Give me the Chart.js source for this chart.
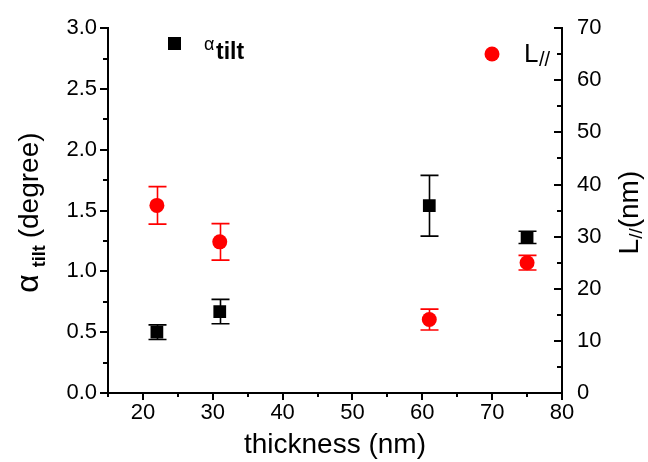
<!DOCTYPE html>
<html>
<head>
<meta charset="utf-8">
<script src="https://cdn.jsdelivr.net/npm/chart.js@4.4.0/dist/chart.umd.min.js"></script>
<style>
  html, body { margin: 0; padding: 0; background: #fff; }
  #wrap { width: 648px; height: 462px; }
</style>
</head>
<body>
<div id="wrap"><canvas id="chart" width="648" height="462"></canvas></div>
<script>
// data
const thickness = [22, 31, 61, 75];
const alphaTilt = [0.50, 0.67, 1.54, 1.28];
const alphaTiltErr = [0.06, 0.10, 0.25, 0.05];
const lPar = [36.0, 29.0, 14.1, 25.0];
const lParErr = [3.6, 3.5, 2.0, 1.4];

// tick values
const xTicks = [20, 30, 40, 50, 60, 70, 80];
const xMinor = [15, 25, 35, 45, 55, 65, 75];
const alphaTicks = [0, 0.5, 1.0, 1.5, 2.0, 2.5, 3.0];
const alphaMinor = [0.25, 0.75, 1.25, 1.75, 2.25, 2.75];
const lTicks = [0, 10, 20, 30, 40, 50, 60, 70];
const lMinor = [5, 15, 25, 35, 45, 55, 65];

const FONT = '"Liberation Sans", Arial, sans-serif';
const BLACK = '#000000';
const RED = '#ff0000';

function toPoints(xs, ys) {
    return xs.map((x, i) => ({ x: x, y: ys[i] }));
}

/**
 * Vertical error bars with caps, drawn under the markers
 */
const errorBars = {
    id: 'errorBars',
    beforeDatasetsDraw(chart) {
        const ctx = chart.ctx;
        chart.data.datasets.forEach(ds => {
            const xs = chart.scales.x;
            const ys = chart.scales[ds.yAxisID];
            ctx.save();
            ctx.strokeStyle = ds.backgroundColor;
            ctx.lineWidth = 1.6;
            ctx.beginPath();
            ds.data.forEach((p, j) => {
                const px = Math.round(xs.getPixelForValue(p.x)) + 0.5;
                const top = ys.getPixelForValue(p.y + ds.errors[j]);
                const bot = ys.getPixelForValue(p.y - ds.errors[j]);
                ctx.moveTo(px, top);
                ctx.lineTo(px, bot);
                ctx.moveTo(px - 9, top);
                ctx.lineTo(px + 9, top);
                ctx.moveTo(px - 9, bot);
                ctx.lineTo(px + 9, bot);
            });
            ctx.stroke();
            ctx.restore();
        });
    }
};

// draws a run of text pieces along one baseline, centred on 0
function drawPieces(ctx, pieces) {
    let total = 0;
    pieces.forEach(p => {
        ctx.font = p.font;
        p.w = ctx.measureText(p.text).width;
        total += p.w + (p.gap || 0);
    });
    let x = -total / 2;
    pieces.forEach(p => {
        ctx.font = p.font;
        ctx.fillText(p.text, x, p.dy || 0);
        x += p.w + (p.gap || 0);
    });
}

/**
 * Tick marks (major + minor), y titles with subscripts and the legend
 */
const decorations = {
    id: 'decorations',
    afterDraw(chart) {
        const { ctx, chartArea: a, scales } = chart;
        ctx.save();
        ctx.strokeStyle = BLACK;
        ctx.lineWidth = 2;
        ctx.beginPath();
        const mark = (vals, scale, len, fn) => vals.forEach(v => fn(Math.round(scale.getPixelForValue(v)), len));
        // bottom axis, ticks outward
        const xt = (p, len) => { ctx.moveTo(p, a.bottom); ctx.lineTo(p, a.bottom + len); };
        mark(xTicks, scales.x, 7, xt);
        mark(xMinor, scales.x, 4, xt);
        // left axis, ticks outward
        const lt = (p, len) => { ctx.moveTo(a.left, p); ctx.lineTo(a.left - len, p); };
        mark(alphaTicks, scales.y, 8, lt);
        mark(alphaMinor, scales.y, 5, lt);
        // right axis, ticks inward
        const rt = (p, len) => { ctx.moveTo(a.right, p); ctx.lineTo(a.right - len, p); };
        mark(lTicks, scales.y2, 8, rt);
        mark(lMinor, scales.y2, 5, rt);
        ctx.stroke();

        ctx.fillStyle = BLACK;
        ctx.textBaseline = 'alphabetic';
        ctx.textAlign = 'left';

        // left title: alpha_tilt (degree)
        ctx.save();
        ctx.translate(38, (a.top + a.bottom) / 2 + 2);
        ctx.rotate(-Math.PI / 2);
        drawPieces(ctx, [
            { text: '\u03B1', font: '32px ' + FONT, gap: 7 },
            { text: 'tilt', font: 'bold 18px ' + FONT, dy: 7, gap: 7 },
            { text: '(degree)', font: '28px ' + FONT }
        ]);
        ctx.restore();

        // right title: L_// (nm)
        ctx.save();
        ctx.translate(638, (a.top + a.bottom) / 2 + 2);
        ctx.rotate(-Math.PI / 2);
        drawPieces(ctx, [
            { text: 'L', font: '28px ' + FONT },
            { text: '//', font: '19px ' + FONT, dy: 4 },
            { text: '(nm)', font: '28px ' + FONT }
        ]);
        ctx.restore();

        // legend
        const ds0 = chart.data.datasets[0];
        const ds1 = chart.data.datasets[1];
        ctx.fillStyle = ds0.backgroundColor;
        ctx.fillRect(168, 37, 13, 13);
        ctx.fillStyle = BLACK;
        ctx.font = '18px ' + FONT;
        ctx.fillText('\u03B1', 204, 50);
        ctx.font = 'bold 23px ' + FONT;
        ctx.fillText('tilt', 216, 59);

        ctx.fillStyle = ds1.backgroundColor;
        ctx.beginPath();
        ctx.arc(492, 54, 7.5, 0, Math.PI * 2);
        ctx.fill();
        ctx.fillStyle = BLACK;
        ctx.font = '26px ' + FONT;
        ctx.fillText('L', 524, 62);
        ctx.font = '20px ' + FONT;
        ctx.fillText('//', 539, 66);

        ctx.restore();
    }
};

function setTicks(values) {
    return scale => { scale.ticks = values.map(v => ({ value: v })); };
}

const tickFont = { family: FONT, size: 22 };
const border = { display: true, color: BLACK, width: 2 };
const noGrid = { display: false, drawTicks: false };

new Chart(document.getElementById('chart'), {
    type: 'scatter',
    data: {
        datasets: [{
            label: 'alpha tilt',
            data: toPoints(thickness, alphaTilt),
            errors: alphaTiltErr,
            yAxisID: 'y',
            pointStyle: 'rect',
            pointRadius: 9,
            backgroundColor: BLACK,
            borderWidth: 0
        }, {
            label: 'L//',
            data: toPoints(thickness, lPar),
            errors: lParErr,
            yAxisID: 'y2',
            pointStyle: 'circle',
            pointRadius: 7.5,
            backgroundColor: RED,
            borderWidth: 0
        }]
    },
    options: {
        responsive: false,
        animation: false,
        events: [],
        layout: { padding: { top: 25, right: 0, bottom: 0, left: 0 } },
        scales: {
            x: {
                type: 'linear',
                position: 'bottom',
                min: 15,
                max: 80,
                afterBuildTicks: setTicks(xTicks),
                afterFit: scale => { scale.height = 69; },
                grid: noGrid,
                border: border,
                ticks: { color: BLACK, font: tickFont, padding: 7, maxRotation: 0 },
                title: {
                    display: true,
                    text: 'thickness (nm)',
                    color: BLACK,
                    font: { family: FONT, size: 28 },
                    padding: { top: 0, bottom: 0 }
                }
            },
            y: {
                type: 'linear',
                position: 'left',
                min: 0,
                max: 3,
                afterBuildTicks: setTicks(alphaTicks),
                afterFit: scale => { scale.width = 108; },
                grid: noGrid,
                border: border,
                ticks: { color: BLACK, font: tickFont, padding: 11, callback: v => v.toFixed(1) }
            },
            y2: {
                type: 'linear',
                position: 'right',
                min: 0,
                max: 70,
                afterBuildTicks: setTicks(lTicks),
                afterFit: scale => { scale.width = 86; },
                grid: noGrid,
                border: border,
                ticks: { color: BLACK, font: tickFont, padding: 15 }
            }
        },
        plugins: {
            legend: { display: false },
            tooltip: { enabled: false }
        }
    },
    plugins: [errorBars, decorations]
});
</script>
</body>
</html>
